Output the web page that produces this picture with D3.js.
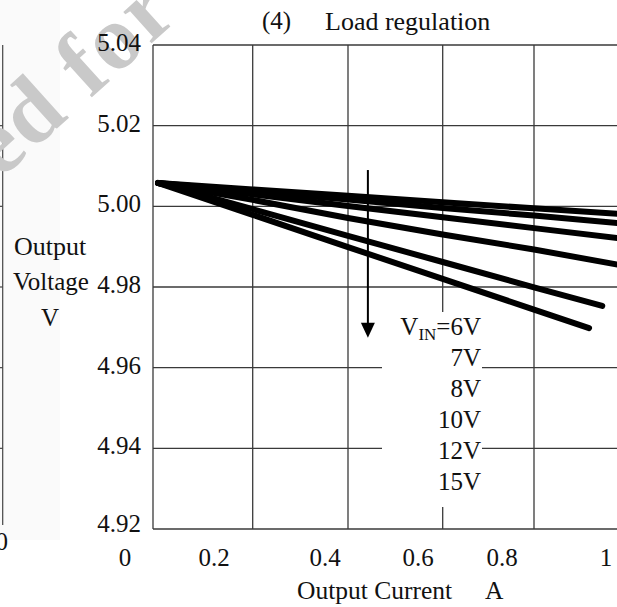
<!DOCTYPE html>
<html>
<head>
<meta charset="utf-8">
<script src="https://cdn.jsdelivr.net/npm/d3@7/dist/d3.min.js"></script>
<style>
  html, body { margin: 0; padding: 0; background: #fff; }
  svg { display: block; font-family: "Liberation Serif", "Times New Roman", serif; }
</style>
</head>
<body>
<svg id="chart" width="617" height="607"></svg>
<script>
// ---- data ----
const xTicks = [0, 0.2, 0.4, 0.6, 0.8, 1];
const xTickLabels = ["0", "0.2", "0.4", "0.6", "0.8", "1"];
const yTicks = [5.04, 5.02, 5.00, 4.98, 4.96, 4.94, 4.92];
const yTickLabels = ["5.04", "5.02", "5.00", "4.98", "4.96", "4.94", "4.92"];
const seriesNames = ["6V", "7V", "8V", "10V", "12V", "15V"];

const currentFull = [0.01, 0.2, 0.4, 0.6, 0.8, 1.0];
const current12V = [0.01, 0.2, 0.4, 0.6, 0.8, 0.95];
const current15V = [0.01, 0.2, 0.4, 0.6, 0.8, 0.921];

const voltage6V  = [5.0058, 5.0042, 5.0026, 5.0010, 4.9995, 4.9980];
const voltage7V  = [5.0058, 5.0037, 5.0017, 4.9996, 4.9977, 4.9957];
const voltage8V  = [5.0058, 5.0030, 5.0001, 4.9973, 4.9946, 4.9919];
const voltage10V = [5.0058, 5.0016, 4.9971, 4.9930, 4.9893, 4.9852];
const voltage12V = [5.0058, 4.9993, 4.9927, 4.9862, 4.9799, 4.9753];
const voltage15V = [5.0058, 4.9979, 4.9899, 4.9820, 4.9744, 4.9698];

const arrowX = 0.442, arrowTop = 5.009, arrowBottom = 4.9674;

// ---- build ----
const series = [
  { name: "6V",  x: currentFull, y: voltage6V },
  { name: "7V",  x: currentFull, y: voltage7V },
  { name: "8V",  x: currentFull, y: voltage8V },
  { name: "10V", x: currentFull, y: voltage10V },
  { name: "12V", x: current12V,  y: voltage12V },
  { name: "15V", x: current15V,  y: voltage15V }
].map(s => ({ name: s.name, pts: s.x.map((v, i) => [v, s.y[i]]) }));

const svg = d3.select("#chart");
const W = 617, H = 607;

// scales (scan is slightly non-uniform, so piecewise range)
const x = d3.scaleLinear().domain(xTicks).range([153, 252.7, 348, 442.7, 534, 625]);
const xLab = d3.scaleLinear().domain(xTicks).range([125, 214, 325, 418, 502, 606]);
const y = d3.scaleLinear().domain([4.92, 5.04]).range([529, 45]);

// faint scan background at left
svg.append("rect").attr("x", 0).attr("y", 0).attr("width", 60).attr("height", 540).attr("fill", "#fafafa");

// neighbouring chart remnant at far left
svg.append("line").attr("x1", 2.7).attr("x2", 2.7).attr("y1", y(5.04)).attr("y2", 525)
  .attr("stroke", "#444").attr("stroke-width", 1.2);
svg.selectAll(".ltick").data(yTicks.slice(1, 6)).enter().append("line")
  .attr("x1", 0).attr("x2", 2.7).attr("y1", d => y(d)).attr("y2", d => y(d))
  .attr("stroke", "#444").attr("stroke-width", 1.2);
svg.append("text").attr("x", -4.5).attr("y", 550).attr("font-size", 25).attr("fill", "#111").text("0");

// watermark
svg.append("text")
  .attr("transform", "translate(0,180) rotate(-42)")
  .attr("font-size", 92).attr("font-weight", "bold").attr("fill", "#c9c9c9")
  .attr("letter-spacing", 2)
  .text("ed for");

// grid
const grid = svg.append("g").attr("stroke", "#3a3a3a").attr("stroke-width", 1.3);
grid.selectAll(".gx").data(xTicks).enter().append("line")
  .attr("x1", d => x(d)).attr("x2", d => x(d)).attr("y1", y(5.04)).attr("y2", y(4.92));
grid.selectAll(".gy").data(yTicks).enter().append("line")
  .attr("x1", x(0)).attr("x2", W + 20).attr("y1", d => y(d)).attr("y2", d => y(d));

// y tick labels
svg.selectAll(".yl").data(yTicks).enter().append("text")
  .attr("x", 141).attr("y", d => Math.min(y(d) + 6, 532))
  .attr("text-anchor", "end").attr("font-size", 25).attr("fill", "#111")
  .text((d, i) => yTickLabels[i]);

// x tick labels
svg.selectAll(".xl").data(xTicks).enter().append("text")
  .attr("x", d => xLab(d)).attr("y", 566)
  .attr("text-anchor", "middle").attr("font-size", 25).attr("fill", "#111")
  .text((d, i) => xTickLabels[i]);

// titles
svg.append("text").attr("x", 262).attr("y", 29).attr("font-size", 25).attr("fill", "#111").text("(4)");
svg.append("text").attr("x", 325).attr("y", 30).attr("font-size", 26).attr("fill", "#111").text("Load regulation");
svg.append("text").attr("x", 297).attr("y", 599).attr("font-size", 25.5).attr("fill", "#111").text("Output Current");
svg.append("text").attr("x", 485).attr("y", 599).attr("font-size", 25.5).attr("fill", "#111").text("A");
svg.append("text").attr("x", 50).attr("y", 255).attr("text-anchor", "middle").attr("font-size", 26).attr("fill", "#111").text("Output");
svg.append("text").attr("x", 51).attr("y", 290).attr("text-anchor", "middle").attr("font-size", 25).attr("fill", "#111").text("Voltage");
svg.append("text").attr("x", 50).attr("y", 326).attr("text-anchor", "middle").attr("font-size", 25).attr("fill", "#111").text("V");

// series lines
const line = d3.line().x(d => x(d[0])).y(d => y(d[1]));
svg.append("g").selectAll("path").data(series).enter().append("path")
  .attr("d", d => line(d.pts))
  .attr("fill", "none").attr("stroke", "#000").attr("stroke-width", 6)
  .attr("stroke-linecap", "round").attr("stroke-linejoin", "round");

// legend box (white, covers grid)
svg.append("rect").attr("x", 382).attr("y", 312).attr("width", 100).attr("height", 195).attr("fill", "#fff");

// arrow
svg.append("line").attr("x1", x(arrowX)).attr("x2", x(arrowX))
  .attr("y1", y(arrowTop)).attr("y2", y(arrowBottom) - 14)
  .attr("stroke", "#000").attr("stroke-width", 2);
const ax = x(arrowX), ab = y(arrowBottom);
svg.append("path").attr("d", `M${ax - 7},${ab - 15}L${ax + 7},${ab - 15}L${ax},${ab}Z`).attr("fill", "#000");

// legend text
const lg = svg.append("g").attr("font-size", 25).attr("fill", "#111").attr("text-anchor", "end");
seriesNames.forEach((n, i) => {
  const t = lg.append("text").attr("x", 481).attr("y", 335 + i * 31);
  if (i === 0) {
    t.append("tspan").text("V");
    t.append("tspan").attr("font-size", 17).attr("dy", 5).text("IN");
    t.append("tspan").attr("dy", -5).text("=" + n);
  } else {
    t.text(n);
  }
});
</script>
</body>
</html>
